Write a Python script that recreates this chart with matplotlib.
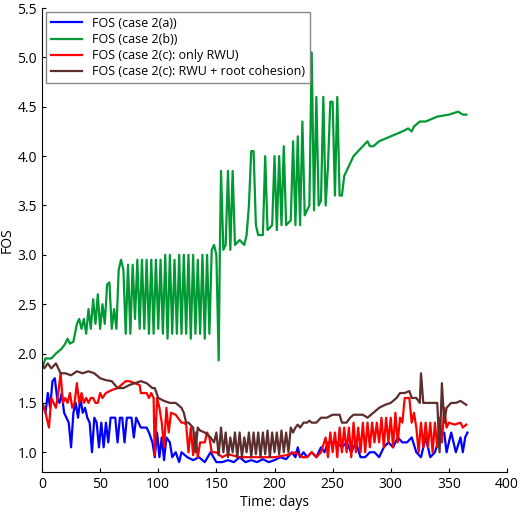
import matplotlib
matplotlib.use("Agg")
import matplotlib.pyplot as plt

green_d = [0,3,8,12,17,20,22,24,27,30,32,34,36,38,40,42,44,46,48,50,52,54,56,58,60,62,64,66,68,70,72,74,76,78,80,82,84,86,88,90,92,94,96,98,100,102,104,106,108,110,112,114,116,118,120,122,124,126,128,130,132,134,136,138,140,142,144,146,148,150,152,153,154,156,158,160,162,164,166,170,174,176,178,180,182,184,186,190,192,194,198,200,202,204,206,208,210,214,216,218,220,222,224,226,230,232,234,236,238,240,242,244,246,248,250,252,254,256,258,260,264,268,272,276,280,282,285,290,300,310,315,318,320,325,330,340,350,358,362,365]
green_v = [1.85,1.95,1.95,2.0,2.05,2.1,2.15,2.1,2.12,2.3,2.35,2.25,2.35,2.2,2.45,2.25,2.55,2.3,2.6,2.25,2.5,2.3,2.7,2.72,2.25,2.45,2.25,2.85,2.95,2.85,2.2,2.9,2.2,2.9,2.35,2.95,2.25,2.95,2.25,2.95,2.2,2.95,2.2,2.95,2.25,2.95,2.2,3.0,2.15,3.0,2.2,2.95,2.2,3.0,2.2,3.0,2.2,3.0,2.15,3.0,2.2,2.95,2.2,3.0,2.15,3.0,2.2,3.05,3.1,3.0,1.93,3.05,3.85,3.05,3.1,3.85,3.05,3.85,3.1,3.15,3.1,3.2,3.5,4.05,4.05,3.3,3.2,3.2,4.0,3.25,3.3,4.0,3.25,4.0,3.3,4.1,3.3,3.35,4.15,3.3,4.2,3.3,4.35,3.4,3.5,5.05,3.45,4.6,3.5,3.55,4.6,3.5,3.9,4.55,4.55,3.6,4.6,3.6,3.6,3.8,3.9,4.0,4.05,4.1,4.15,4.1,4.1,4.15,4.2,4.25,4.28,4.25,4.3,4.35,4.35,4.4,4.42,4.45,4.42,4.42]

blue_d = [0,3,5,7,9,11,13,15,17,19,21,23,25,27,29,31,33,35,37,39,41,43,45,47,49,51,53,55,57,59,63,65,67,69,71,73,75,77,79,81,85,90,92,95,97,99,101,103,105,107,110,112,115,118,120,125,130,135,140,145,150,155,160,165,170,175,180,185,190,195,200,205,210,215,218,220,222,225,228,232,236,240,243,246,250,254,258,262,266,270,274,278,282,286,290,294,298,302,306,310,314,318,322,326,330,334,338,342,346,348,352,356,360,362,364,366]
blue_v = [1.5,1.4,1.6,1.45,1.72,1.75,1.55,1.5,1.6,1.4,1.35,1.3,1.05,1.4,1.5,1.35,1.55,1.4,1.45,1.35,1.3,1.0,1.35,1.3,1.05,1.3,1.05,1.3,1.1,1.35,1.35,1.1,1.35,1.35,1.1,1.35,1.35,1.35,1.15,1.35,1.25,1.25,1.2,1.1,0.95,1.2,0.95,1.15,0.92,1.15,1.1,0.95,1.0,0.9,1.0,0.95,0.92,0.95,0.9,1.0,0.9,0.9,0.92,0.9,0.95,0.9,0.92,0.9,0.93,0.9,0.92,0.95,0.93,1.0,0.95,1.05,0.95,1.0,0.95,1.0,0.95,1.05,1.0,1.1,1.1,1.1,1.05,1.1,1.0,1.1,0.95,0.95,1.0,1.0,0.95,1.05,1.1,1.05,1.15,1.1,1.1,1.15,1.0,0.95,1.15,0.95,1.0,1.15,1.2,1.0,1.2,1.0,1.15,1.0,1.15,1.2]

red_d = [0,2,4,6,8,10,12,14,16,18,20,22,24,26,28,30,32,34,36,38,40,42,44,46,48,50,52,55,60,65,70,72,75,80,84,85,88,90,92,94,96,97,99,101,103,105,107,109,111,115,120,122,124,126,128,130,132,134,136,140,142,144,146,150,155,160,170,180,190,200,210,218,224,228,232,236,240,244,246,248,250,252,254,256,258,260,262,264,266,268,270,272,274,276,278,280,282,284,286,288,290,292,294,296,298,300,302,304,306,308,310,312,316,318,320,322,324,326,328,330,332,334,336,338,340,342,344,346,348,350,355,360,362,365]
red_v = [1.5,1.45,1.35,1.25,1.55,1.5,1.45,1.6,1.8,1.5,1.55,1.5,1.6,1.45,1.5,1.7,1.5,1.6,1.5,1.55,1.5,1.55,1.55,1.5,1.5,1.6,1.55,1.6,1.63,1.65,1.7,1.72,1.72,1.7,1.68,1.6,1.6,1.6,1.55,1.6,1.55,0.97,1.55,1.45,1.3,1.05,1.45,1.2,1.4,1.38,1.3,1.3,1.28,1.0,1.25,0.97,1.2,0.95,1.1,1.1,1.2,1.15,1.0,1.0,0.95,0.98,0.95,0.95,0.95,0.95,0.97,1.0,0.95,0.95,1.0,0.95,1.0,1.15,0.95,1.2,1.0,1.2,0.95,1.25,1.0,1.25,1.0,1.25,0.95,1.3,1.0,1.25,1.0,1.3,1.0,1.3,1.05,1.3,1.1,1.3,1.1,1.35,1.05,1.35,1.1,1.35,1.05,1.4,1.1,1.35,1.3,1.55,1.55,1.3,1.4,1.25,1.0,1.3,1.05,1.3,1.05,1.3,1.0,1.3,1.05,1.35,1.1,1.45,1.25,1.3,1.28,1.3,1.25,1.28]

brown_d = [0,2,5,8,12,14,16,20,25,30,35,40,45,50,55,60,65,70,75,80,85,90,95,97,100,105,110,115,120,122,124,126,130,132,134,136,140,145,148,150,152,154,156,158,160,162,164,166,168,170,172,174,176,178,180,182,184,186,188,190,192,194,196,198,200,202,204,206,208,210,212,214,216,218,220,222,225,228,230,232,236,240,245,250,256,258,262,265,268,272,276,280,285,290,295,300,305,308,312,316,318,322,325,326,328,330,335,340,342,344,346,348,352,356,360,365]
brown_v = [1.9,1.85,1.9,1.85,1.9,1.85,1.8,1.8,1.78,1.82,1.8,1.82,1.8,1.75,1.73,1.72,1.65,1.65,1.68,1.7,1.72,1.7,1.65,1.65,1.55,1.52,1.5,1.5,1.45,1.4,1.3,1.3,1.25,1.0,1.25,1.22,1.2,1.15,1.1,1.2,0.97,1.25,1.0,1.2,0.95,1.15,1.0,1.2,0.95,1.2,0.95,1.15,1.0,1.2,0.95,1.2,0.98,1.2,0.95,1.2,0.98,1.22,0.95,1.2,1.0,1.2,0.98,1.22,1.0,1.2,1.0,1.25,1.2,1.25,1.28,1.25,1.3,1.3,1.32,1.3,1.3,1.35,1.35,1.38,1.38,1.3,1.3,1.35,1.38,1.38,1.38,1.35,1.4,1.45,1.48,1.5,1.55,1.6,1.6,1.62,1.55,1.55,1.5,1.8,1.5,1.5,1.5,1.5,1.0,1.7,1.3,1.45,1.5,1.5,1.52,1.48]

labels = ["FOS (case 2(a))", "FOS (case 2(b))", "FOS (case 2(c): only RWU)", "FOS (case 2(c): RWU + root cohesion)"]

plt.rcParams['font.family'] = ['Open Sans', 'DejaVu Sans']
fig = plt.figure(figsize=(5.2, 5.14), dpi=100)
ax = fig.add_axes([42/520, 42/514, 465/520, 464/514])
ax.plot(blue_d, blue_v, color='#0000ff', lw=1.6, label=labels[0])
ax.plot(green_d, green_v, color='#009933', lw=1.6, label=labels[1])
ax.plot(red_d, red_v, color='#ff0000', lw=1.6, label=labels[2])
ax.plot(brown_d, brown_v, color='#5c2e2e', lw=1.6, label=labels[3])
ax.set_xlim(0, 400)
ax.set_ylim(0.8, 5.5)
ax.set_xticks([0, 50, 100, 150, 200, 250, 300, 350, 400])
ax.set_yticks([1.0, 1.5, 2.0, 2.5, 3.0, 3.5, 4.0, 4.5, 5.0, 5.5])
ax.set_yticklabels(['1.0','1.5','2.0','2.5','3.0','3.5','4.0','4.5','5.0','5.5'])
ax.spines['top'].set_visible(False)
ax.spines['right'].set_visible(False)
ax.tick_params(labelsize=10, direction='in', length=3)
ax.set_xlabel('Time: days', fontsize=10, labelpad=2)
ax.set_ylabel('FOS', fontsize=10, labelpad=2)
leg = ax.legend(loc='upper left', fontsize=9, fancybox=False, edgecolor='#888888',
                handlelength=2.5, borderaxespad=0.3, labelspacing=0.25, framealpha=1)
fig.savefig('out.png', dpi=100)
